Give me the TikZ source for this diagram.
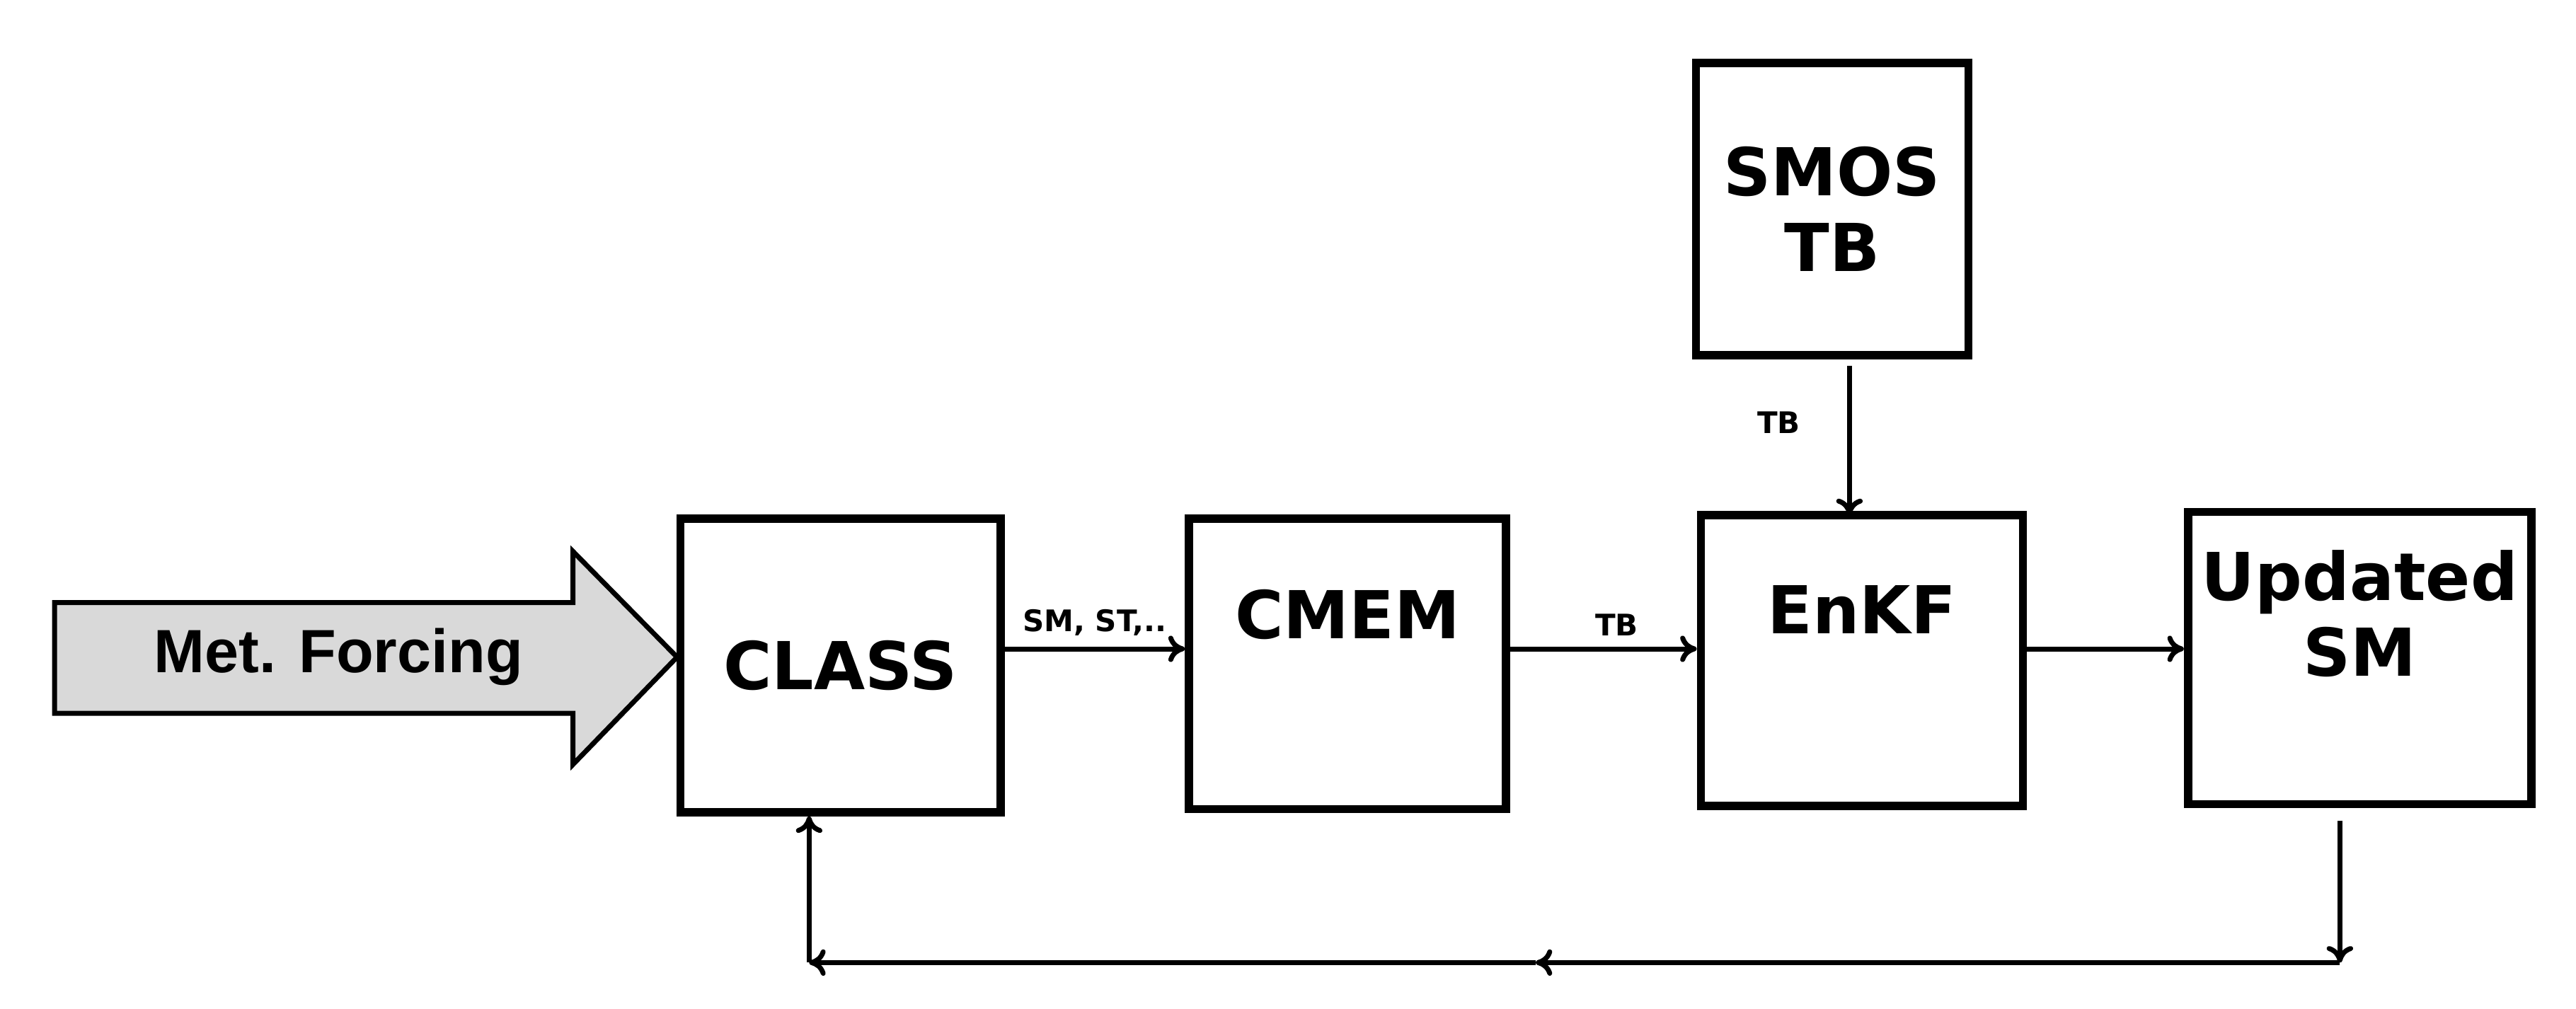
\documentclass[tikz,border=0pt]{standalone}
\usepackage{fontspec}
\setmainfont{DejaVu Sans}
\newfontfamily\arialf{Liberation Sans}
\usetikzlibrary{arrows.meta}
\begin{document}
\begin{tikzpicture}[x=1pt,y=-1pt,
  box/.style={draw,line width=5pt,inner sep=0pt,font=\fontsize{40}{46}\selectfont\bfseries,align=center},
  conn/.style={line width=3pt,-{To[length=10pt,width=16pt]}},
  lab/.style={font=\fontsize{18}{22}\selectfont\bfseries}]
\useasboundingbox (0,0) rectangle (1560,611);
\node[box,minimum width=165,minimum height=177] (smos) at (1109.5,126.5) {SMOS\\TB};
\node[box,minimum width=194,minimum height=178] (class) at (509,403) {CLASS};
\node[box,minimum width=192,minimum height=176] (cmem) at (816,402) {CMEM\\[14pt]};
\node[box,minimum width=195,minimum height=176] (enkf) at (1127.5,400) {EnKF\\[16pt]};
\node[box,minimum width=208,minimum height=177] (upd) at (1429,398.5) {Updated\\SM\\[8pt]};
\draw[line width=3pt,fill=gray!30] (33,365) -- (347,365) -- (347,334) -- (410,398) -- (347,463) -- (347,432) -- (33,432) -- cycle;
\node[font=\arialf\fontsize{37}{40}\selectfont\bfseries] (met) at (205,398) {Met. Forcing};
\draw[conn] (class.east |- 0,393) -- (cmem.west |- 0,393) node[lab,midway,above=3pt] {SM, ST,..};
\draw[conn] (cmem.east |- 0,393) -- (enkf.west |- 0,393) node[lab,midway,above=3pt,xshift=8pt] {TB};
\draw[conn] (enkf.east |- 0,393) -- (upd.west |- 0,393);
\draw[conn] (smos.south -| 1120,0) ++(0,4) -- (1120,312) node[lab,pos=0.38,left=25pt] {TB};
\coordinate (c1) at (1417,583);
\coordinate (c2) at (490,583);
\draw[conn] (1417,497) -- (c1);
\draw[conn] (c1) -- (930,583);
\draw[conn] (930,583) -- (c2);
\draw[conn] (c2) -- (class.south -| c2);
\end{tikzpicture}
\end{document}
